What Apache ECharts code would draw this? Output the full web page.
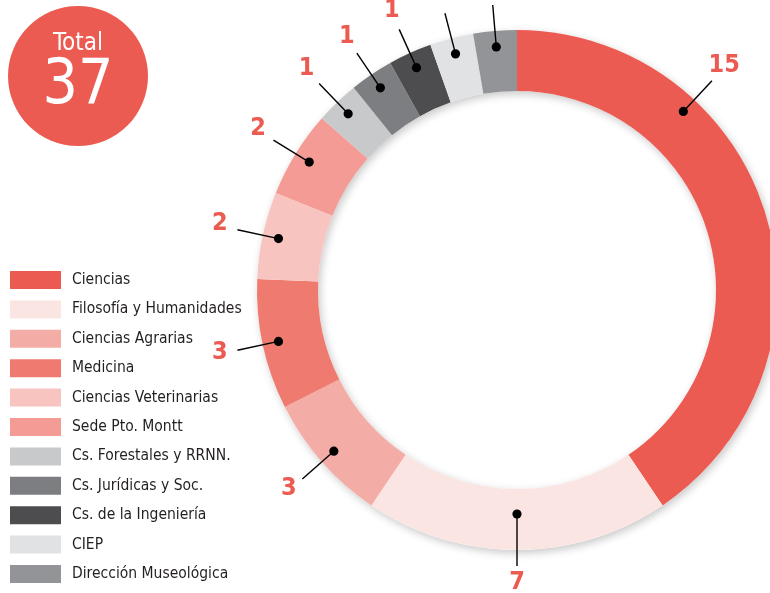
<!DOCTYPE html>
<html>
<head>
<meta charset="utf-8">
<script src="https://cdn.jsdelivr.net/npm/echarts@6/dist/echarts.min.js"></script>
<style>
  html, body { margin: 0; padding: 0; background: #fff; }
  #chart { width: 770px; height: 593px; }
</style>
</head>
<body>
<div id="chart"></div>
<script>
// datos
const facultades = [
  'Ciencias', 'Filosofía y Humanidades', 'Ciencias Agrarias', 'Medicina',
  'Ciencias Veterinarias', 'Sede Pto. Montt', 'Cs. Forestales y RRNN.',
  'Cs. Jurídicas y Soc.', 'Cs. de la Ingeniería', 'CIEP', 'Dirección Museológica'
];
const cantidades = [15, 7, 3, 3, 2, 2, 1, 1, 1, 1, 1];
const colores = [
  '#ec5b51', '#fbe5e3', '#f4ada6', '#ef7a70', '#f8c4c0', '#f39b94',
  '#c8c9cb', '#7d7e82', '#4d4d4f', '#e1e2e3', '#939497'
];

const total = cantidades.reduce((a, b) => a + b, 0);

// punto medio (en unidades) de cada sector
let acum = 0;
const medios = cantidades.map(v => {
  const m = acum + v / 2;
  acum += v;
  return m;
});

// ajustes de las etiquetas (solo posición visual)
const ajusteEtiqueta = {
  'Ciencias': { angulo: -30 },
  'Filosofía y Humanidades': { punto: -20, linea: -10, texto: -10 }
};

const FONT = '"Liberation Sans Narrow", "DejaVu Sans Condensed", "Roboto", sans-serif';
const ROJO = '#ec5b51';
const CX = 517, CY = 290, R_IN = 199, R_OUT = 260;

const chart = echarts.init(document.getElementById('chart'));

const option = {
  animation: false,
  legend: {
    orient: 'vertical',
    left: 5,
    top: 266,
    itemWidth: 51,
    itemHeight: 18,
    itemGap: 11.4,
    icon: 'rect',
    selectedMode: false,
    data: facultades,
    textStyle: {
      fontFamily: FONT,
      fontSize: 15.5,
      color: '#231f20',
      padding: [0, 0, 0, 6]
    }
  },
  polar: {
    center: [CX, CY],
    radius: R_OUT
  },
  angleAxis: {
    type: 'value',
    min: 0,
    max: total,
    startAngle: 90,
    clockwise: true,
    show: false
  },
  radiusAxis: {
    type: 'value',
    min: 0,
    max: R_OUT,
    show: false
  },
  graphic: [
    {
      type: 'circle',
      shape: { cx: 78, cy: 76, r: 70 },
      style: { fill: ROJO },
      silent: true
    },
    {
      type: 'text',
      x: 78, y: 44,
      style: {
        text: 'Total', fill: '#fff', font: '24px ' + FONT,
        textAlign: 'center', textVerticalAlign: 'middle'
      },
      silent: true
    },
    {
      type: 'text',
      x: 78, y: 87,
      style: {
        text: String(total), fill: '#fff', font: '62px ' + FONT,
        textAlign: 'center', textVerticalAlign: 'middle'
      },
      silent: true
    }
  ],
  series: [
    // sombra del anillo
    {
      type: 'pie',
      silent: true,
      z: 1,
      center: [CX, CY],
      radius: [R_IN, R_OUT],
      label: { show: false },
      data: [{
        value: 1,
        name: '',
        itemStyle: {
          color: '#fff',
          shadowBlur: 9,
          shadowOffsetX: 2,
          shadowOffsetY: 3,
          shadowColor: 'rgba(0,0,0,0.22)'
        }
      }]
    },
    {
      type: 'pie',
      silent: true,
      z: 2,
      center: [CX, CY],
      radius: [R_IN, R_OUT],
      startAngle: 90,
      clockwise: true,
      label: { show: false },
      labelLine: { show: false },
      data: facultades.map((n, i) => ({
        name: n,
        value: cantidades[i],
        itemStyle: { color: colores[i] }
      }))
    },
    // puntos, líneas y números
    {
      type: 'custom',
      coordinateSystem: 'polar',
      silent: true,
      z: 10,
      data: medios.map((m, i) => [m, cantidades[i], i]),
      renderItem: function (params, api) {
        const i = api.value(2);
        const aj = ajusteEtiqueta[facultades[i]] || {};
        const ang = api.value(0) + (aj.angulo || 0) / 360 * total;
        const p0 = api.coord([244 + (aj.punto || 0), ang]);
        const p1 = api.coord([286 + (aj.linea || 0), ang]);
        const p2 = api.coord([304 + (aj.texto || 0), ang]);
        return {
          type: 'group',
          children: [
            {
              type: 'line',
              shape: { x1: p0[0], y1: p0[1], x2: p1[0], y2: p1[1] },
              style: { stroke: '#000', lineWidth: 1.4 }
            },
            {
              type: 'circle',
              shape: { cx: p0[0], cy: p0[1], r: 4.6 },
              style: { fill: '#000' }
            },
            {
              type: 'text',
              x: p2[0], y: p2[1] - 2,
              style: {
                text: String(api.value(1)),
                fill: ROJO,
                font: 'bold 25px ' + FONT,
                textAlign: 'center',
                textVerticalAlign: 'middle'
              }
            }
          ]
        };
      }
    }
  ]
};

chart.setOption(option);
</script>
</body>
</html>
